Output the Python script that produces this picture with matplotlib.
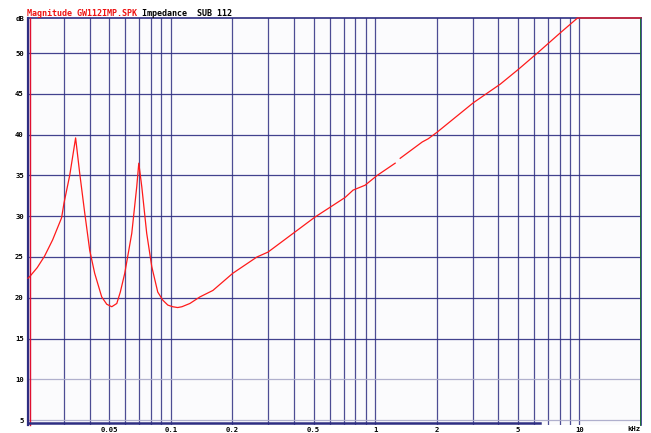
import numpy as np
import matplotlib
matplotlib.use('Agg')
import matplotlib.pyplot as plt

# 阻抗曲线数据 (频率 kHz, 幅值)
freq_khz = [0.0200, 0.0204, 0.0222, 0.0241, 0.0264, 0.0292, 0.0300, 0.0320,
            0.0342, 0.0358, 0.0379, 0.0401, 0.0424, 0.0459, 0.0486, 0.0514,
            0.0544, 0.0566, 0.0595, 0.0644, 0.0681, 0.0697, 0.0721, 0.0762,
            0.0807, 0.0863, 0.0914, 0.0967, 0.1022, 0.108, 0.1133, 0.124,
            0.1387, 0.1607, 0.201, 0.264, 0.299, 0.397, 0.508, 0.602, 0.713,
            0.780, 0.893, 1.023, 1.253, 1.29, 1.326, 1.70, 1.82, 2.01, 3.02,
            4.10, 5.02, 6.22, 8.07, 9.78, 20.0]
magnitude = [22.4, 22.6, 23.7, 25.1, 27.1, 29.8, 31.6, 35.0,
             39.6, 35.3, 30.4, 25.8, 23.0, 20.1, 19.2, 18.9,
             19.3, 20.7, 23.0, 27.9, 33.6, 36.5, 33.6, 27.9,
             23.8, 20.7, 19.7, 19.1, 18.9, 18.8, 18.9, 19.3,
             20.1, 20.9, 23.0, 25.0, 25.6, 27.9, 29.9, 31.1, 32.3,
             33.2, 33.8, 35.0, 36.5, np.nan, 37.1, 39.1, 39.5, 40.3, 43.9,
             46.2, 48.0, 50.0, 52.5, 54.3, 54.3]

# 网格
grid_f = [0.02, 0.03, 0.04, 0.05, 0.06, 0.07, 0.08, 0.09,
          0.1, 0.2, 0.3, 0.4, 0.5, 0.6, 0.7, 0.8, 0.9,
          1, 2, 3, 4, 5, 6, 7, 8, 9, 10, 20]
x_ticks = [0.05, 0.1, 0.2, 0.5, 1, 2, 5, 10]
x_labels = ['0.05', '0.1', '0.2', '0.5', '1', '2', '5', '10']
y_ticks = [5, 10, 15, 20, 25, 30, 35, 40, 45, 50]

navy = '#2e2e82'
mono = 'DejaVu Sans Mono'

fig = plt.figure(figsize=(6.51, 4.33), dpi=100)
fig.patch.set_facecolor('white')
ax = fig.add_axes([28/651, 8/433, 613/651, 407/433])
ax.set_facecolor('#fbfbfd')

ax.set_xscale('log')
ax.set_xlim(0.02, 20)
ax.set_ylim(4.4, 54.3)

for f in grid_f:
    ax.axvline(f, color=navy, lw=0.9, alpha=0.85, zorder=1)
for v in y_ticks:
    c = '#a8a8c8' if v <= 10 else navy
    ax.axhline(v, color=c, lw=0.9, alpha=0.9, zorder=1)

ax.plot(freq_khz, magnitude, color='#ff1a1a', lw=0.9, zorder=3, clip_on=False)

# 边框
for s in ['top', 'left', 'right']:
    ax.spines[s].set_color(navy)
ax.spines['left'].set_linewidth(1.6)
ax.spines['top'].set_linewidth(1.2)
ax.spines['right'].set_linewidth(1.2)
ax.spines['bottom'].set_visible(False)
ax.plot([0.004, 0.004], [0, 1], transform=ax.transAxes, color='#e01030', lw=1.0, clip_on=False, zorder=4)
ax.plot([0.998, 0.998], [0, 1], transform=ax.transAxes, color='#1a7a2a', lw=0.6, clip_on=False, zorder=4)
ax.plot([0, 0.835], [0.004, 0.004], transform=ax.transAxes, color=navy, lw=1.8, clip_on=False, zorder=4)

ax.set_xticks(x_ticks)
ax.set_xticklabels(x_labels)
ax.xaxis.set_minor_locator(matplotlib.ticker.NullLocator())
ax.set_yticks(y_ticks)
ax.set_yticklabels([str(v) for v in y_ticks])
ax.tick_params(axis='both', length=0, labelsize=5.2)
ax.tick_params(axis='x', pad=1.5)
ax.tick_params(axis='y', pad=3)
for lab in ax.get_xticklabels() + ax.get_yticklabels():
    lab.set_family(mono)
    lab.set_fontweight('bold')

fig.text(24/651, 1 - 19/433, 'dB', ha='right', va='center', fontsize=5.2,
         family=mono, fontweight='bold')
fig.text(634/651, 1 - 429/433, 'kHz', ha='center', va='center', fontsize=5.2,
         family=mono, fontweight='bold')
fig.text(27/651, 1 - 16/433, 'Magnitude GW112IMP.SPK', ha='left', va='baseline',
         fontsize=6, family=mono, fontweight='bold', color='#ee1111')
fig.text(142/651, 1 - 16/433, 'Impedance  SUB 112', ha='left', va='baseline',
         fontsize=6, family=mono, fontweight='bold', color='black')

fig.savefig('out.png', dpi=100)
